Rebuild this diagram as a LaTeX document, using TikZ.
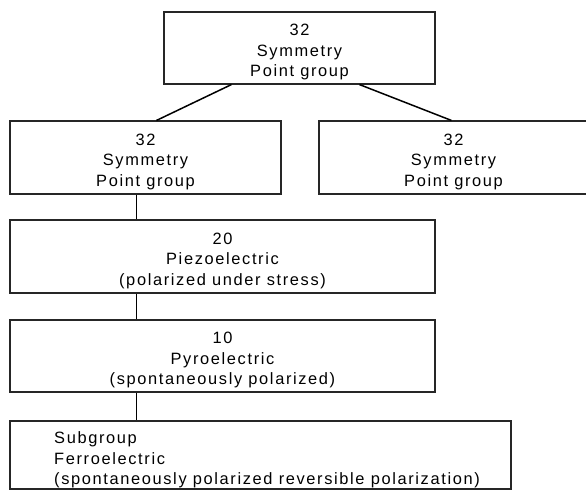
\documentclass[tikz,border=0pt]{standalone}
\usepackage{fontspec}
\setmainfont{Liberation Sans}[LetterSpace=10]
\usetikzlibrary{calc}
\begin{document}
\begin{tikzpicture}[x=1pt,y=-1pt,
  box/.style={draw=black!85, line width=1.1pt, rectangle, inner sep=0pt},
  txt/.style={align=center, inner sep=0pt, font=\fontsize{16.4}{20.5}\selectfont},
  link/.style={draw=black, line width=1.5pt}]
\useasboundingbox (0,0) rectangle (586,491);
\node[box, minimum width=271pt, minimum height=72pt] (top) at (299.5,48) {};
\node[box, minimum width=271pt, minimum height=73pt] (left) at (145.5,157.5) {};
\node[box, minimum width=269pt, minimum height=73pt] (right) at (453.5,157.5) {};
\node[box, minimum width=425pt, minimum height=73pt] (piezo) at (222.5,256.5) {};
\node[box, minimum width=425pt, minimum height=72pt] (pyro) at (222.5,356) {};
\node[box, minimum width=501pt, minimum height=68pt] (ferro) at (260.5,455) {};
\node[txt] (toptext) at ($(top.center)+(0,4)$) {32\\Symmetry\\Point group};
\node[txt] (lefttext) at ($(left.center)+(0,4)$) {32\\Symmetry\\Point group};
\node[txt] (righttext) at ($(right.center)+(0,4)$) {32\\Symmetry\\Point group};
\node[txt] (piezotext) at ($(piezo.center)+(0,4)$) {20\\Piezoelectric\\(polarized under stress)};
\node[txt] (pyrotext) at ($(pyro.center)+(0,4)$) {10\\Pyroelectric\\(spontaneously polarized)};
\node[txt, anchor=west, align=left] (ferrotext) at (54,460)
  {Subgroup\\Ferroelectric\\(spontaneously polarized reversible polarization)};
\draw[link] ($(top.south west)+(68,0)$) -- ($(left.north west)+(147,0)$);
\draw[link] ($(top.south west)+(196,0)$) -- ($(right.north west)+(133,0)$);
\draw[link] ($(left.south west)+(127,0)$) -- ($(piezo.north west)+(127,0)$);
\draw[link] ($(piezo.south west)+(127,0)$) -- ($(pyro.north west)+(127,0)$);
\draw[link] ($(pyro.south west)+(127,0)$) -- ($(ferro.north west)+(127,0)$);
\end{tikzpicture}
\end{document}
